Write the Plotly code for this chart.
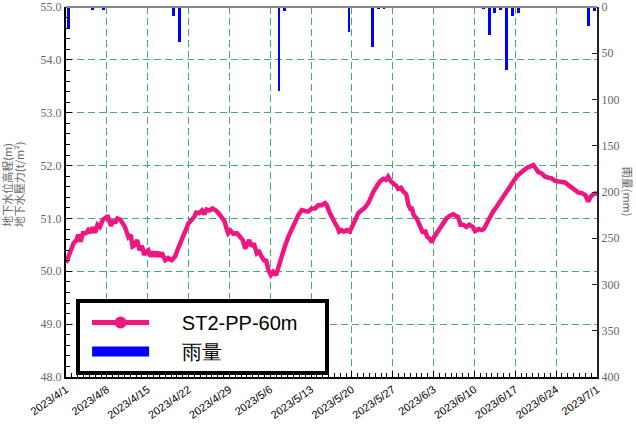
import pandas as pd
import plotly.graph_objects as go

# ---------------- data ----------------
start_date = "2023-04-01"

# water pressure series: elapsed days since 2023-04-01 and value (t/m^2)
pp_days = [0.0, 0.4, 1.3, 1.8, 2.1, 2.5, 2.9, 3.4, 3.8, 4.2, 4.5, 5.0, 5.4, 5.8, 6.3,
           7.0, 7.2, 7.7, 8.1, 8.4, 8.8, 9.3, 9.7, 10.1, 10.7, 11.1, 11.4, 11.8, 12.2,
           12.6, 13.0, 13.4, 13.7, 14.1, 14.5, 14.9, 15.3, 15.6, 16.0, 16.4, 17.0, 17.5,
           18.1, 18.7, 19.2, 19.8, 20.4, 21.0, 21.5, 22.0, 22.3, 22.8, 23.3, 23.7, 24.1,
           24.6, 25.1, 25.7, 26.3, 26.9, 27.2, 27.5, 27.8, 28.2, 28.7, 29.3, 29.8, 30.3,
           30.7, 31.1, 31.4, 31.8, 32.2, 32.7, 33.1, 33.5, 33.9, 34.3, 34.7, 35.1, 35.5,
           36.0, 36.4, 37.0, 37.5, 38.1, 38.7, 39.2, 39.8, 40.4, 41.0, 41.5, 42.1, 42.7,
           43.2, 43.8, 44.4, 44.7, 45.1, 45.7, 46.1, 46.5, 46.8, 47.2, 47.6, 48.1, 48.6,
           49.0, 49.5, 50.1, 50.7, 51.2, 51.8, 52.2, 52.7, 53.2, 53.8, 54.4, 54.8, 55.2,
           55.6, 56.1, 56.6, 56.9, 57.4, 57.8, 58.3, 58.7, 59.1, 59.2, 59.6, 60.1, 60.4,
           60.8, 61.2, 61.5, 61.9, 62.3, 62.7, 63.1, 63.5, 64.1, 64.7, 65.2, 65.8, 66.4,
           66.8, 67.2, 67.6, 68.1, 68.6, 69.1, 69.7, 70.1, 70.7, 71.2, 71.6, 72.1, 72.7,
           73.2, 73.8, 74.4, 74.9, 75.5, 76.1, 76.7, 77.2, 77.8, 78.4, 79.0, 79.5, 80.1,
           80.5, 80.9, 81.5, 82.1, 82.7, 83.2, 83.8, 84.4, 85.0, 85.5, 86.1, 86.7, 87.2,
           87.8, 88.4, 89.0, 89.3, 89.5, 89.9, 90.4, 91.0]
pp_values = [50.16, 50.28, 50.53, 50.59, 50.69, 50.56, 50.72, 50.72, 50.78, 50.73, 50.83,
             50.73, 50.88, 50.84, 50.97, 51.03, 51.03, 50.86, 50.97, 50.91, 51.00, 50.98,
             50.91, 50.84, 50.65, 50.69, 50.47, 50.50, 50.59, 50.40, 50.48, 50.31, 50.37,
             50.40, 50.28, 50.37, 50.28, 50.37, 50.28, 50.35, 50.21, 50.25, 50.21, 50.28,
             50.43, 50.59, 50.78, 50.91, 50.97, 51.03, 51.11, 51.10, 51.15, 51.08, 51.17,
             51.15, 51.19, 51.15, 51.08, 51.00, 50.94, 50.81, 50.72, 50.77, 50.71, 50.72,
             50.65, 50.59, 50.43, 50.54, 50.59, 50.47, 50.53, 50.34, 50.37, 50.28, 50.21,
             50.20, 50.02, 49.93, 49.99, 49.93, 50.09, 50.28, 50.47, 50.65, 50.81, 50.94,
             51.06, 51.16, 51.15, 51.13, 51.19, 51.19, 51.25, 51.25, 51.29, 51.25, 51.13,
             50.97, 50.91, 50.84, 50.75, 50.78, 50.75, 50.78, 50.75, 50.84, 50.97, 51.10,
             51.16, 51.20, 51.29, 51.41, 51.51, 51.60, 51.70, 51.75, 51.73, 51.79, 51.71,
             51.66, 51.62, 51.56, 51.58, 51.51, 51.46, 51.25, 51.16, 51.22, 51.06, 51.00,
             50.91, 50.78, 50.72, 50.78, 50.65, 50.62, 50.55, 50.65, 50.72, 50.81, 50.91,
             51.00, 51.05, 51.08, 51.05, 51.03, 50.88, 50.88, 50.84, 50.88, 50.84, 50.76,
             50.80, 50.78, 50.80, 50.91, 51.03, 51.13, 51.22, 51.32, 51.41, 51.51, 51.60,
             51.70, 51.79, 51.85, 51.92, 51.96, 51.98, 52.01, 51.95, 51.88, 51.85, 51.79,
             51.77, 51.76, 51.71, 51.70, 51.68, 51.68, 51.63, 51.57, 51.54, 51.49, 51.48,
             51.44, 51.38, 51.32, 51.41, 51.46, 51.48]

# daily rainfall (mm)
rain_dates = ["2023-04-01", "2023-04-05", "2023-04-07", "2023-04-19", "2023-04-20",
              "2023-05-07", "2023-05-08", "2023-05-19", "2023-05-23", "2023-05-24",
              "2023-05-25", "2023-06-11", "2023-06-12", "2023-06-13", "2023-06-14",
              "2023-06-15", "2023-06-16", "2023-06-17", "2023-06-26", "2023-06-29",
              "2023-06-30"]
rain_mm = [24, 3, 3, 10, 38, 91, 4, 27, 43, 2, 2, 2, 30, 7, 3, 68, 10, 6, 1, 20, 4]

tick_dates = ["2023-04-01", "2023-04-08", "2023-04-15", "2023-04-22", "2023-04-29",
              "2023-05-06", "2023-05-13", "2023-05-20", "2023-05-27", "2023-06-03",
              "2023-06-10", "2023-06-17", "2023-06-24", "2023-07-01"]
tick_labels = ["2023/4/1", "2023/4/8", "2023/4/15", "2023/4/22", "2023/4/29",
               "2023/5/6", "2023/5/13", "2023/5/20", "2023/5/27", "2023/6/3",
               "2023/6/10", "2023/6/17", "2023/6/24", "2023/7/1"]

series_name = "ST2-PP-60m"
rain_name = "雨量"

# ---------------- figure ----------------
LINE_COLOR = "#F0157F"
RAIN_COLOR = "#0000FF"
GRID_COLOR = "rgb(70,170,115)"
GRID_DASH = "7px,4px"
SERIF = "Liberation Serif, Times New Roman, serif"
LEAD = "\u00a0" * 5
TRAIL = "\u00a0" * 4

base = pd.Timestamp(start_date)
pp_x = base + pd.to_timedelta(pp_days, unit="D")
rain_x = pd.to_datetime(rain_dates) + pd.Timedelta(hours=12)

fig = go.Figure()

fig.add_trace(go.Bar(
    x=rain_x, y=rain_mm, yaxis="y2", marker=dict(color=RAIN_COLOR, line=dict(width=0)),
    width=0.5 * 86400000, showlegend=False, name=rain_name))

fig.add_trace(go.Scatter(
    x=pp_x, y=pp_values, mode="lines", line=dict(color=LINE_COLOR, width=4.5),
    showlegend=False, name=series_name))

# legend entries
fig.add_trace(go.Scatter(
    x=[None], y=[None], mode="lines+markers", name=LEAD + series_name + TRAIL,
    line=dict(color=LINE_COLOR, width=5), marker=dict(color=LINE_COLOR, size=12)))
fig.add_trace(go.Scatter(
    x=[None], y=[None], mode="lines", name=LEAD + rain_name, yaxis="y2",
    line=dict(color=RAIN_COLOR, width=17)))

fig.update_layout(
    width=636, height=432,
    margin=dict(l=66, r=39, t=7, b=55, autoexpand=False),
    paper_bgcolor="white", plot_bgcolor="white",
    bargap=0,
    xaxis=dict(
        type="date", range=[start_date, "2023-07-01"], automargin=False,
        tickvals=tick_dates, ticktext=tick_labels, tickangle=-35,
        tickfont=dict(family="Liberation Sans, Arial", size=11, color="black"),
        showgrid=True, gridcolor=GRID_COLOR, griddash=GRID_DASH, gridwidth=1,
        showline=True, linecolor="black", linewidth=2,
        ticks="inside", ticklen=6, tickcolor="black",
        minor=dict(dtick=86400000, ticks="inside", ticklen=4, tickcolor="black",
                   showgrid=False),
        zeroline=False, fixedrange=True,
    ),
    yaxis=dict(
        range=[48, 55], tickvals=[48, 49, 50, 51, 52, 53, 54, 55], automargin=False,
        ticktext=["48.0", "49.0", "50.0", "51.0", "52.0", "53.0", "54.0", "55.0"],
        tickfont=dict(family=SERIF, size=12, color="#666"),
        showgrid=True, gridcolor=GRID_COLOR, griddash=GRID_DASH, gridwidth=1,
        showline=True, linecolor="black", linewidth=2,
        ticks="inside", ticklen=6, tickcolor="black",
        minor=dict(dtick=0.2, ticks="inside", ticklen=4, tickcolor="black",
                   showgrid=False),
        zeroline=False,
    ),
    yaxis2=dict(
        overlaying="y", side="right", range=[400, 0], automargin=False,
        tickvals=[0, 50, 100, 150, 200, 250, 300, 350, 400],
        tickfont=dict(family=SERIF, size=12, color="#666"),
        showgrid=False, showline=True, linecolor="#222", linewidth=2,
        ticks="inside", ticklen=5, tickcolor="#222",
        zeroline=False,
    ),
    legend=dict(
        x=0.019, y=0.211, xanchor="left", yanchor="top",
        bgcolor="white", bordercolor="black", borderwidth=4,
        font=dict(family="Liberation Sans, Arial", size=20, color="black"),
        itemwidth=57, indentation=7, tracegroupgap=0,
    ),
    shapes=[dict(type="line", xref="paper", yref="paper", x0=0, x1=1, y0=1, y1=1,
                 line=dict(color="#888", width=2))],
    annotations=[
        dict(text="地下水壓力(t/m²)", xref="paper", yref="paper", x=-0.089, y=0.52,
             xanchor="center", yanchor="middle",
             textangle=-90, showarrow=False,
             font=dict(family="Noto Sans CJK TC", size=11, color="#666")),
        dict(text="地下水位高程(m)", xref="paper", yref="paper", x=-0.111, y=0.52,
             xanchor="center", yanchor="middle",
             textangle=-90, showarrow=False,
             font=dict(family="Noto Sans CJK TC", size=11, color="#666")),
        dict(text="雨量(mm)", xref="paper", yref="paper", x=1.059, y=0.5,
             xanchor="center", yanchor="middle",
             textangle=90, showarrow=False,
             font=dict(family="Noto Sans CJK TC", size=11, color="#666")),
    ],
)

fig.write_html("out.html", config={"displayModeBar": False},
               post_script="document.body.style.margin='0';")
